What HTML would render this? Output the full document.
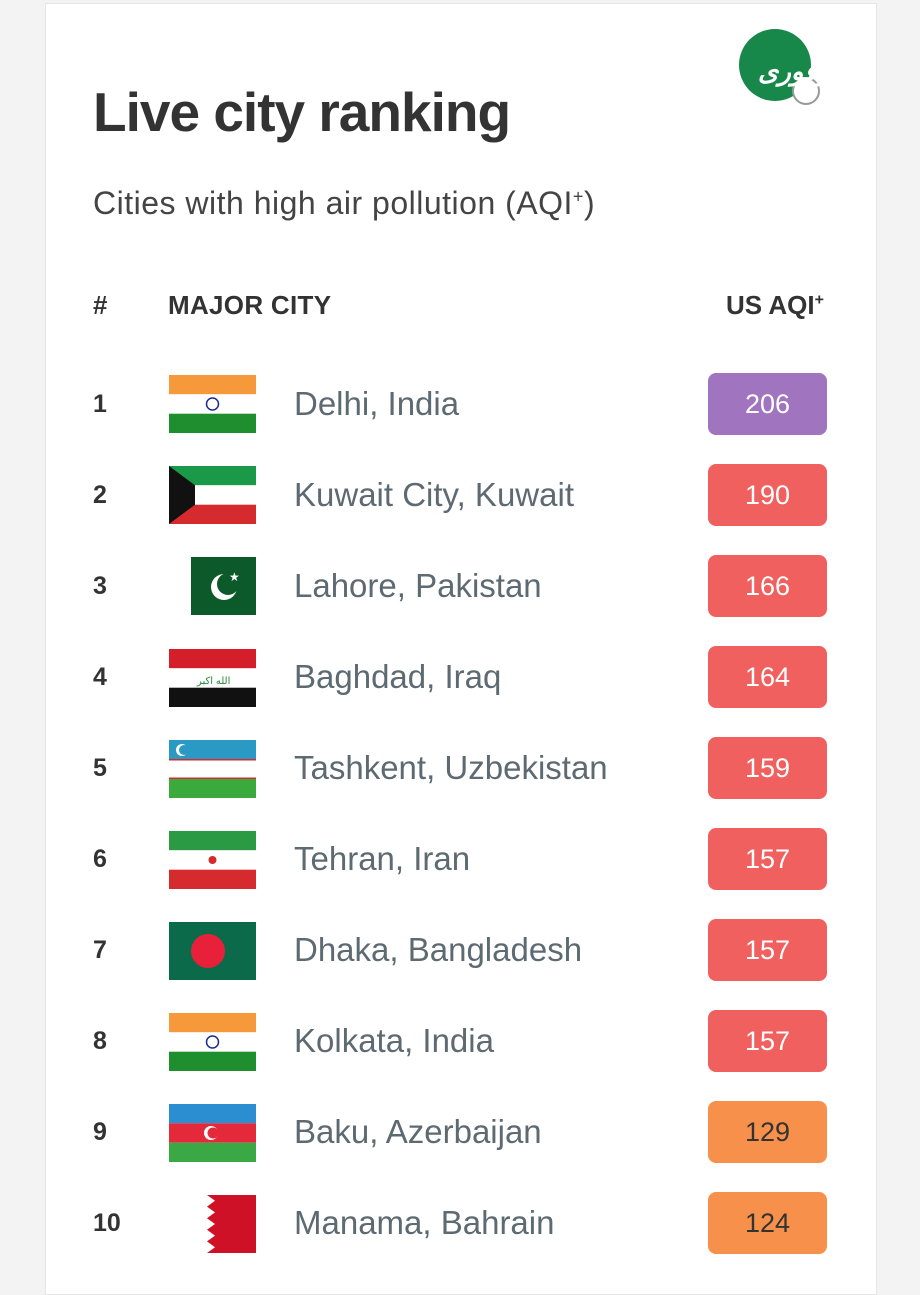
<!DOCTYPE html>
<html><head><meta charset="utf-8"><style>
body{margin:0;width:920px;height:1280px;background:#f3f3f3;font-family:"Liberation Sans",sans-serif;overflow:hidden;position:relative}
.card{position:absolute;left:45px;top:3px;width:830px;height:1290px;background:#fff;border:1px solid #e6e6e6}
.t{position:absolute;white-space:nowrap}
.flag{position:absolute;left:169px;width:87px;height:58px;overflow:hidden}
.badge{position:absolute;left:708px;width:119px;height:62px;border-radius:8px;color:#fff;font-size:27px;text-align:center;line-height:62px}
.num{position:absolute;left:93px;font-size:25px;font-weight:bold;color:#333;line-height:30px}
.city{position:absolute;left:294px;font-size:33px;color:#5d6a72;line-height:36px}
</style></head><body>
<div class="card"></div>
<div class="t" style="left:93px;top:80px;font-size:55px;font-weight:bold;color:#333;letter-spacing:-1px">Live city ranking</div>
<div class="t" style="left:93px;top:185px;font-size:32px;color:#444;letter-spacing:0.5px">Cities with high air pollution (AQI<sup style="font-size:18px">+</sup>)</div>
<div class="t" style="left:93px;top:290px;font-size:26px;font-weight:bold;color:#333">#</div>
<div class="t" style="left:168px;top:290px;font-size:26px;font-weight:bold;color:#333;letter-spacing:0.3px">MAJOR CITY</div>
<div class="t" style="left:726px;top:290px;font-size:26px;font-weight:bold;color:#333">US AQI<sup style="font-size:16px">+</sup></div>
<svg style="position:absolute;left:738px;top:28px" width="85" height="80"><circle cx="37" cy="37" r="36" fill="#17884a"/><circle cx="68" cy="63" r="13" fill="#fff" stroke="#999" stroke-width="2"/><text x="20" y="52" fill="#fff" font-size="26" font-style="italic" font-weight="bold">خبرفوری</text></svg>

<div class="num" style="top:389px">1</div><div class="city" style="top:386px">Delhi, India</div>
<svg class="flag" style="top:375px"><rect width="87" height="19.3" fill="#f6993b"/><rect y="19.3" width="87" height="19.4" fill="#fff"/><rect y="38.7" width="87" height="19.3" fill="#1e8e2e"/><circle cx="43.5" cy="29" r="6" fill="none" stroke="#1c2a8c" stroke-width="1.5"/></svg>
<div class="badge" style="top:373px;background:#a174bf">206</div>

<div class="num" style="top:480px">2</div><div class="city" style="top:477px">Kuwait City, Kuwait</div>
<svg class="flag" style="top:466px"><rect width="87" height="19.3" fill="#1a9a48"/><rect y="19.3" width="87" height="19.4" fill="#fff"/><rect y="38.7" width="87" height="19.3" fill="#d52a2e"/><polygon points="0,0 26,19.3 26,38.7 0,58" fill="#111"/></svg>
<div class="badge" style="top:464px;background:#f0605e">190</div>

<div class="num" style="top:571px">3</div><div class="city" style="top:568px">Lahore, Pakistan</div>
<svg class="flag" style="top:557px;left:191px;width:65px"><rect width="65" height="58" fill="#0c5a2a"/><circle cx="33" cy="30" r="13" fill="#fff"/><circle cx="37" cy="27" r="11" fill="#0c5a2a"/><text x="38" y="24" fill="#fff" font-size="12">★</text></svg>
<div class="badge" style="top:555px;background:#f0605e">166</div>

<div class="num" style="top:662px">4</div><div class="city" style="top:659px">Baghdad, Iraq</div>
<svg class="flag" style="top:649px"><rect width="87" height="19.3" fill="#d41f2a"/><rect y="19.3" width="87" height="19.4" fill="#fff"/><rect y="38.7" width="87" height="19.3" fill="#111"/><text x="28" y="35" fill="#2a8a3c" font-size="10">الله اكبر</text></svg>
<div class="badge" style="top:646px;background:#f0605e">164</div>

<div class="num" style="top:753px">5</div><div class="city" style="top:750px">Tashkent, Uzbekistan</div>
<svg class="flag" style="top:740px"><rect width="87" height="19" fill="#2a9ac4"/><rect y="19" width="87" height="1.5" fill="#d52a2e"/><rect y="20.5" width="87" height="17" fill="#fff"/><rect y="37.5" width="87" height="1.5" fill="#d52a2e"/><rect y="39" width="87" height="19" fill="#3aaa3c"/><circle cx="13" cy="10" r="6" fill="#fff"/><circle cx="15" cy="10" r="5" fill="#2a9ac4"/></svg>
<div class="badge" style="top:737px;background:#f0605e">159</div>

<div class="num" style="top:844px">6</div><div class="city" style="top:841px">Tehran, Iran</div>
<svg class="flag" style="top:831px"><rect width="87" height="19.3" fill="#2a9a45"/><rect y="19.3" width="87" height="19.4" fill="#fff"/><rect y="38.7" width="87" height="19.3" fill="#d52a2e"/><circle cx="43.5" cy="29" r="4" fill="#d52a2e"/></svg>
<div class="badge" style="top:828px;background:#f0605e">157</div>

<div class="num" style="top:935px">7</div><div class="city" style="top:932px">Dhaka, Bangladesh</div>
<svg class="flag" style="top:922px"><rect width="87" height="58" fill="#0b6a4a"/><circle cx="39" cy="29" r="17" fill="#e8203a"/></svg>
<div class="badge" style="top:919px;background:#f0605e">157</div>

<div class="num" style="top:1026px">8</div><div class="city" style="top:1023px">Kolkata, India</div>
<svg class="flag" style="top:1013px"><rect width="87" height="19.3" fill="#f6993b"/><rect y="19.3" width="87" height="19.4" fill="#fff"/><rect y="38.7" width="87" height="19.3" fill="#1e8e2e"/><circle cx="43.5" cy="29" r="6" fill="none" stroke="#1c2a8c" stroke-width="1.5"/></svg>
<div class="badge" style="top:1010px;background:#f0605e">157</div>

<div class="num" style="top:1117px">9</div><div class="city" style="top:1114px">Baku, Azerbaijan</div>
<svg class="flag" style="top:1104px"><rect width="87" height="19.3" fill="#2a8ed0"/><rect y="19.3" width="87" height="19.4" fill="#e42a3a"/><rect y="38.7" width="87" height="19.3" fill="#3aa845"/><circle cx="42" cy="29" r="7" fill="#fff"/><circle cx="44" cy="29" r="5.5" fill="#e42a3a"/></svg>
<div class="badge" style="top:1101px;background:#f7904a;color:#333">129</div>

<div class="num" style="top:1208px">10</div><div class="city" style="top:1205px">Manama, Bahrain</div>
<svg class="flag" style="top:1195px;left:191px;width:65px"><rect width="65" height="58" fill="#ce1126"/><polygon points="0,0 16,0 24,5.8 16,11.6 24,17.4 16,23.2 24,29 16,34.8 24,40.6 16,46.4 24,52.2 16,58 0,58" fill="#fff"/></svg>
<div class="badge" style="top:1192px;background:#f7904a;color:#333">124</div>
</body></html>
